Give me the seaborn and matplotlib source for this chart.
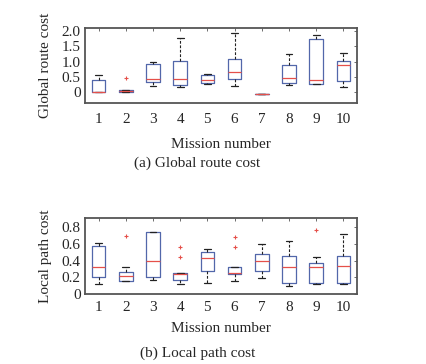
import matplotlib
matplotlib.use("Agg")
import matplotlib.pyplot as plt
import seaborn as sns
import pandas as pd

missions = [1, 2, 3, 4, 5, 6, 7, 8, 9, 10]

# Samples (min/quartiles/max and outliers)
global_cost = [
    [0.0, 0.0, 0.02, 0.40, 0.55],
    [0.0, 0.0, 0.01, 0.02, 0.03, 0.04, 0.06, 0.07, 0.47],
    [0.21, 0.34, 0.42, 0.91, 0.99],
    [0.17, 0.23, 0.42, 1.03, 1.78],
    [0.28, 0.30, 0.39, 0.56, 0.61],
    [0.20, 0.42, 0.67, 1.10, 1.94],
    [-0.06, -0.06, -0.06, -0.06, -0.06],
    [0.23, 0.31, 0.48, 0.89, 1.25],
    [0.26, 0.27, 0.39, 1.74, 1.87],
    [0.17, 0.36, 0.89, 1.03, 1.29],
]

local_cost = [
    [0.12, 0.21, 0.32, 0.57, 0.61],
    [0.16, 0.16, 0.16, 0.19, 0.22, 0.24, 0.26, 0.33, 0.70],
    [0.17, 0.20, 0.40, 0.74, 0.74],
    [0.12, 0.15, 0.17, 0.20, 0.24, 0.25, 0.25, 0.44, 0.56],
    [0.13, 0.28, 0.43, 0.50, 0.54],
    [0.16, 0.20, 0.24, 0.25, 0.25, 0.30, 0.33, 0.56, 0.68],
    [0.19, 0.28, 0.40, 0.48, 0.60],
    [0.10, 0.13, 0.32, 0.45, 0.64],
    [0.12, 0.12, 0.13, 0.25, 0.32, 0.35, 0.37, 0.44, 0.77],
    [0.12, 0.13, 0.34, 0.45, 0.72],
]

global_yticks = [0, 0.5, 1.0, 1.5, 2.0]
global_yticklabels = ["0", "0.5", "1.0", "1.5", "2.0"]
local_yticks = [0, 0.2, 0.4, 0.6, 0.8]
local_yticklabels = ["0", "0.2", "0.4", "0.6", "0.8"]


def to_long(series):
    rows = []
    for m, vals in zip(missions, series):
        for v in vals:
            rows.append({"mission": str(m), "value": v})
    return pd.DataFrame(rows)


sns.set_style("white")
plt.rcParams["font.family"] = ["Liberation Serif", "DejaVu Serif"]

fig = plt.figure(figsize=(4.27, 3.64), dpi=100)
ax1 = fig.add_axes([0.199, 0.717, 0.637, 0.206])
ax2 = fig.add_axes([0.199, 0.192, 0.637, 0.209])

box_color = "#5267aa"
kw = dict(
    x="mission", y="value", order=[str(m) for m in missions],
    fill=False, color=box_color, width=0.5, linewidth=0.9,
    medianprops=dict(color="#e5504a", linewidth=0.9),
    whiskerprops=dict(color="#222222", linestyle=(0, (2.5, 1.5)), linewidth=0.8),
    capprops=dict(color="#222222", linewidth=0.9),
    flierprops=dict(marker="+", markeredgecolor="#e5504a", markersize=3.5,
                    markeredgewidth=0.8),
)

sns.boxplot(data=to_long(global_cost), ax=ax1, **kw)
sns.boxplot(data=to_long(local_cost), ax=ax2, **kw)

fs = 11
for ax, yt, ytl, ylab, ylim, xpad, lpad in [
    (ax1, global_yticks, global_yticklabels, "Global route cost", (-0.35, 2.1), 7, 9),
    (ax2, local_yticks, local_yticklabels, "Local path cost", (0, 0.91), 5, 6),
]:
    ax.set_ylim(*ylim)
    ax.set_xlim(-0.5, 9.5)
    ax.set_yticks(yt)
    ax.set_yticklabels(ytl, fontsize=fs)
    ax.set_xticks(range(len(missions)))
    ax.set_xticklabels([str(m) for m in missions], fontsize=fs)
    ax.set_xlabel("Mission number", fontsize=fs, labelpad=lpad)
    ax.set_ylabel(ylab, fontsize=fs, labelpad=7)
    ax.tick_params(direction="in", length=2.5, width=0.6, color="#555555",
                   top=True, right=True)
    ax.tick_params(axis="x", pad=xpad)
    ax.tick_params(axis="y", pad=3)
    for s in ax.spines.values():
        s.set_visible(True)
        s.set_color("#555555")
        s.set_linewidth(1.3)

fig.text(0.462, 1 - 163 / 364, "(a) Global route cost", ha="center", va="center", fontsize=fs)
fig.text(0.462, 1 - 353 / 364, "(b) Local path cost", ha="center", va="center", fontsize=fs)

fig.savefig("out.png", dpi=100, facecolor="white")
